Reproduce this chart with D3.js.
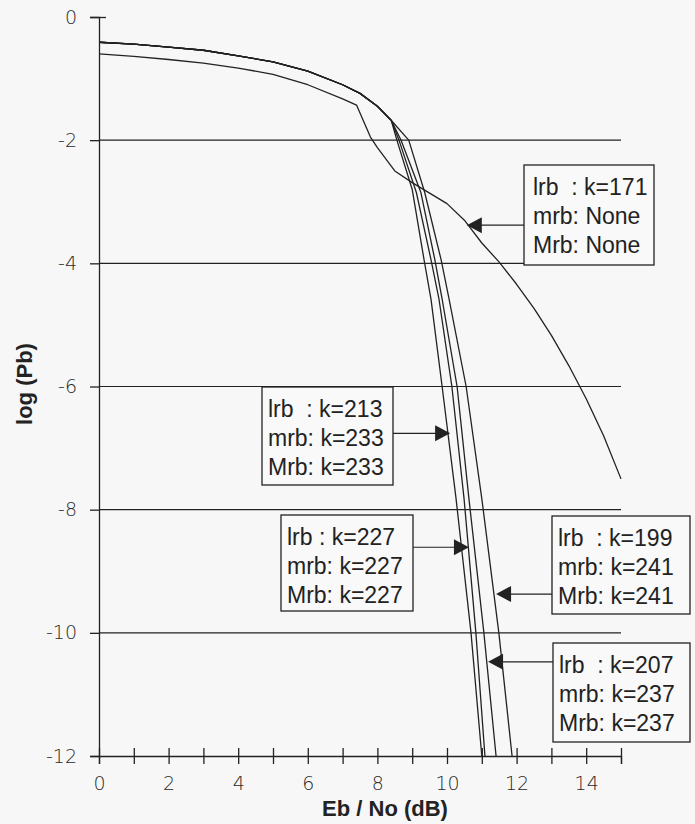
<!DOCTYPE html>
<html>
<head>
<meta charset="utf-8">
<script src="https://cdn.jsdelivr.net/npm/d3@7"></script>
<style>
  html, body { margin: 0; padding: 0; background: #f7f7f7; }
  svg { display: block; }
  .tick text { font-family: "DejaVu Sans", sans-serif; font-weight: 200; fill: #2a2a2a; }
</style>
</head>
<body>
<svg id="chart" width="695" height="824"></svg>
<script>
// ---------------- data ----------------
const xTicks = [0,1,2,3,4,5,6,7,8,9,10,11,12,13,14,15];
const xTickLabels = ["0","","2","","4","","6","","8","","10","","12","","14",""];
const yTicks = [0,-2,-4,-6,-8,-10,-12];
const yTickLabels = ["0","-2","-4","-6","-8","-10","-12"];
const gridValues = [-2,-4,-6,-8,-10];

// lrb k=171 (mrb/Mrb none)
const ebno171  = [0,1,2,3,4,5,6,7,7.4,7.8,8,8.5,9,9.5,10,10.5,11,11.5,12,12.5,13,13.5,14,14.5,15];
const logPb171 = [-0.6,-0.64,-0.69,-0.75,-0.83,-0.93,-1.1,-1.33,-1.43,-1.95,-2.12,-2.5,-2.69,-2.86,-3.03,-3.3,-3.67,-3.98,-4.34,-4.73,-5.17,-5.66,-6.2,-6.8,-7.5];

// lrb k=213, mrb/Mrb k=233
const ebno213  = [0,1,2,3,4,5,6,7,7.5,8,8.4,8.56,9.0,9.34,9.54,9.86,10.26,10.69,11.0];
const logPb213 = [-0.41,-0.44,-0.49,-0.54,-0.63,-0.73,-0.88,-1.1,-1.24,-1.45,-1.68,-2.0,-2.8,-3.94,-4.58,-6.0,-7.82,-10.0,-12.0];

// lrb k=227, mrb/Mrb k=227
const ebno227  = [0,1,2,3,4,5,6,7,7.5,8,8.4,8.62,9.12,9.54,9.77,10.14,10.49,10.83,11.09];
const logPb227 = [-0.41,-0.44,-0.49,-0.54,-0.63,-0.73,-0.88,-1.1,-1.24,-1.45,-1.68,-2.0,-2.85,-3.94,-4.58,-6.0,-7.82,-10.0,-12.0];

// lrb k=207, mrb/Mrb k=237
const ebno207  = [0,1,2,3,4,5,6,7,7.5,8,8.4,8.68,9.25,9.65,9.86,10.29,10.63,11.06,11.41];
const logPb207 = [-0.41,-0.44,-0.49,-0.54,-0.63,-0.73,-0.88,-1.1,-1.24,-1.45,-1.68,-2.0,-2.85,-3.94,-4.58,-6.0,-7.82,-10.0,-12.0];

// lrb k=199, mrb/Mrb k=241
const ebno199  = [0,1,2,3,4,5,6,7,7.5,8,8.4,8.9,9.36,9.83,10.06,10.55,11.0,11.49,11.87];
const logPb199 = [-0.41,-0.44,-0.49,-0.54,-0.63,-0.73,-0.88,-1.1,-1.24,-1.45,-1.68,-2.0,-2.85,-3.94,-4.58,-6.0,-7.82,-10.0,-12.0];

// annotation texts and the point on the curve each arrow touches
const labelLines = [
  ["lrb  : k=171", "mrb: None", "Mrb: None"],
  ["lrb  : k=213", "mrb: k=233", "Mrb: k=233"],
  ["lrb : k=227", "mrb: k=227", "Mrb: k=227"],
  ["lrb  : k=199", "mrb: k=241", "Mrb: k=241"],
  ["lrb  : k=207", "mrb: k=237", "Mrb: k=237"]
];
const arrowTargetX = [10.57, 10.09, 10.63, 11.41, 11.18];
const arrowTargetY = [-3.38, -6.76, -8.61, -9.37, -10.47];

// ---------------- layout ----------------
const svg = d3.select("#chart");
const x = d3.scaleLinear().domain([0, 15]).range([99, 621]);
const y = d3.scaleLinear().domain([-12, 0]).range([756, 17]);
const ink = "#222";

// background
svg.append("rect").attr("width", 695).attr("height", 824).attr("fill", "#f7f7f7");

// gridlines
svg.append("g").selectAll("line").data(gridValues).join("line")
  .attr("x1", x(0)).attr("x2", x(15))
  .attr("y1", d => y(d)).attr("y2", d => y(d))
  .attr("stroke", ink).attr("stroke-width", 1.2);

// y axis
const yAxis = d3.axisLeft(y).tickValues(yTicks).tickSize(9).tickPadding(13)
  .tickFormat((d, i) => yTickLabels[i]);
const gy = svg.append("g").attr("transform", `translate(${x(0)},0)`).call(yAxis);
gy.select(".domain").attr("stroke", ink).attr("stroke-width", 1.3);
gy.selectAll(".tick line").attr("stroke", ink).attr("stroke-width", 1.3);
gy.selectAll(".tick text").attr("font-size", 19);
// the top tick crosses the axis
gy.selectAll(".tick").filter(d => d === 0).select("line").attr("x2", 7).attr("x1", -9);

// x axis
const xAxis = d3.axisBottom(x).tickValues(xTicks).tickSize(8).tickPadding(13)
  .tickFormat((d, i) => xTickLabels[i]);
const gx = svg.append("g").attr("transform", `translate(0,${y(-12)})`).call(xAxis);
gx.select(".domain").attr("stroke", ink).attr("stroke-width", 1.3);
gx.selectAll(".tick line").attr("y1", -8).attr("y2", 8).attr("stroke", ink).attr("stroke-width", 1.3);
gx.selectAll(".tick text").attr("font-size", 19);

// axis titles
svg.append("text").attr("x", 385).attr("y", 816).attr("text-anchor", "middle")
  .attr("font-family", "Liberation Sans, Arial, sans-serif").attr("font-weight", "bold")
  .attr("font-size", 22).attr("fill", ink).text("Eb / No (dB)");
svg.append("text").attr("transform", "translate(32,384) rotate(-90)").attr("text-anchor", "middle")
  .attr("font-family", "Liberation Sans, Arial, sans-serif").attr("font-weight", "bold")
  .attr("font-size", 22).attr("fill", ink).text("log (Pb)");

// curves
const series = [
  [ebno171, logPb171], [ebno213, logPb213], [ebno227, logPb227],
  [ebno207, logPb207], [ebno199, logPb199]
];
const line = d3.line().x(d => x(d[0])).y(d => y(d[1]));
svg.append("g").selectAll("path").data(series).join("path")
  .attr("d", s => line(s[0].map((v, i) => [v, s[1][i]])))
  .attr("fill", "none").attr("stroke", ink).attr("stroke-width", 1.3)
  .attr("stroke-linejoin", "round");

// annotation boxes (pixel layout) : left, top, width, height, side of arrow
const boxes = [
  {l: 524, t: 165, w: 130, h: 100, side: "left"},
  {l: 262, t: 387, w: 131, h: 98,  side: "right"},
  {l: 281, t: 515, w: 132, h: 96,  side: "right"},
  {l: 552, t: 516, w: 138, h: 98,  side: "left"},
  {l: 553, t: 643, w: 137, h: 99,  side: "left"}
];
const ann = svg.append("g");
boxes.forEach((b, i) => {
  const tx = x(arrowTargetX[i]), ty = y(arrowTargetY[i]);
  const sx = b.side === "left" ? b.l : b.l + b.w;
  const dir = b.side === "left" ? 1 : -1; // direction from tip back toward box
  ann.append("line").attr("x1", sx).attr("y1", ty).attr("x2", tx + dir * 10).attr("y2", ty)
    .attr("stroke", ink).attr("stroke-width", 1.2);
  ann.append("path")
    .attr("d", `M${tx},${ty} L${tx + dir * 15},${ty - 8} L${tx + dir * 15},${ty + 8} Z`)
    .attr("fill", ink);
  ann.append("rect").attr("x", b.l).attr("y", b.t).attr("width", b.w).attr("height", b.h)
    .attr("fill", "#f9f9f9").attr("stroke", ink).attr("stroke-width", 1.3);
  const pad = i === 0 ? 9 : 6;
  labelLines[i].forEach((s, j) => {
    ann.append("text").attr("x", b.l + pad).attr("y", b.t + 30 + j * 29)
      .attr("font-family", "Liberation Sans, Arial, sans-serif").attr("font-size", 23)
      .attr("fill", ink).style("white-space", "pre").text(s);
  });
});
</script>
</body>
</html>
